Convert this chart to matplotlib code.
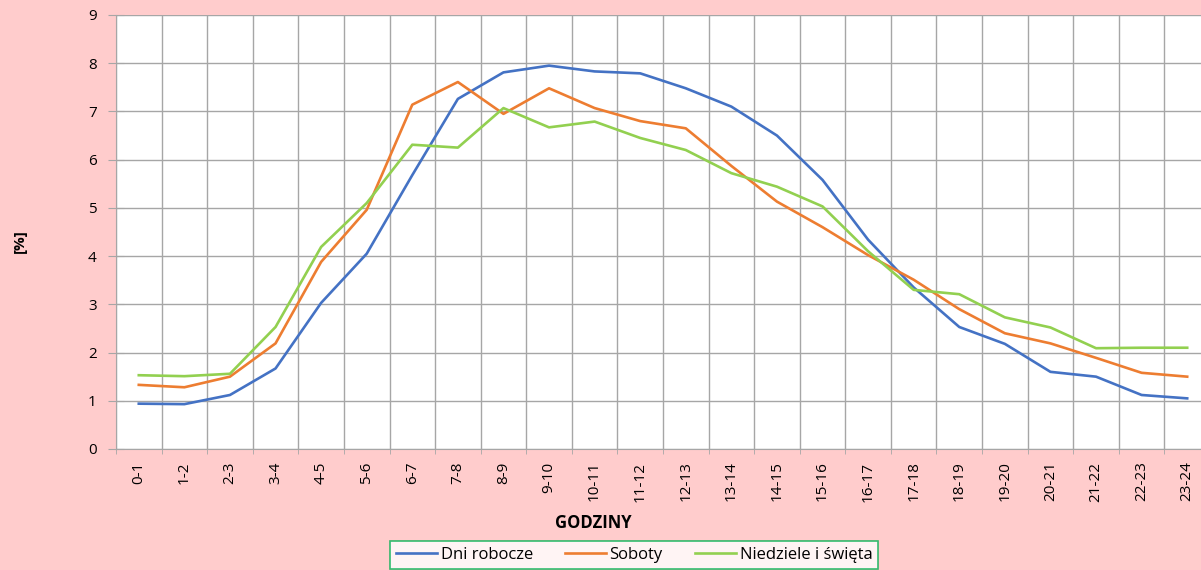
import matplotlib
matplotlib.use("Agg")
import matplotlib.pyplot as plt
import numpy as np

categories = ["0-1", "1-2", "2-3", "3-4", "4-5", "5-6", "6-7", "7-8", "8-9", "9-10",
              "10-11", "11-12", "12-13", "13-14", "14-15", "15-16", "16-17", "17-18",
              "18-19", "19-20", "20-21", "21-22", "22-23", "23-24"]
dni_robocze = [0.94, 0.93, 1.12, 1.67, 3.03, 4.05, 5.68, 7.26, 7.81, 7.95, 7.83, 7.79,
               7.48, 7.10, 6.50, 5.58, 4.34, 3.35, 2.53, 2.18, 1.60, 1.50, 1.12, 1.05]
soboty = [1.33, 1.28, 1.50, 2.19, 3.88, 4.96, 7.14, 7.61, 6.95, 7.48, 7.07, 6.80,
          6.65, 5.87, 5.13, 4.60, 4.02, 3.51, 2.90, 2.40, 2.19, 1.89, 1.58, 1.50]
niedziele = [1.53, 1.51, 1.56, 2.53, 4.19, 5.10, 6.31, 6.25, 7.07, 6.67, 6.79, 6.45,
             6.20, 5.72, 5.44, 5.03, 4.10, 3.30, 3.21, 2.73, 2.52, 2.09, 2.10, 2.10]
series_names = ["Dni robocze", "Soboty", "Niedziele i święta"]
colors = ["#4472C4", "#ED7D31", "#92D050"]
yticks = list(range(0, 10))

plt.rcParams['font.family'] = ['Open Sans', 'DejaVu Sans']

W, H = 1201, 570
fig = plt.figure(figsize=(W / 100, H / 100), dpi=100, facecolor="#FFCCCC")
ax = fig.add_axes([116 / W, 1 - 449 / H, (1210 - 116) / W, (449 - 15) / H])
ax.set_facecolor("white")

x = np.arange(len(categories))
for vals, name, c in zip([dni_robocze, soboty, niedziele], series_names, colors):
    ax.plot(x, vals, color=c, lw=1.9, label=name, solid_joinstyle="round")

ax.set_xlim(-0.5, len(categories) - 0.5)
ax.set_ylim(0, 9)
ax.set_yticks(yticks)
ax.set_yticklabels([str(v) for v in yticks], fontsize=11)
ax.set_xticks(x)
ax.set_xticklabels(categories, rotation=90, fontsize=11)
ax.set_xticks(np.arange(len(categories) + 1) - 0.5, minor=True)

gc = "#A6A6A6"
ax.grid(axis="y", which="major", color=gc, lw=1)
ax.grid(axis="x", which="minor", color=gc, lw=1)
ax.set_axisbelow(True)
ax.tick_params(axis="x", which="major", length=0, pad=9)
ax.tick_params(axis="x", which="minor", direction="inout", length=7, color=gc)
ax.tick_params(axis="y", which="major", direction="inout", length=12, color=gc, pad=8)
for s in ["top", "right"]:
    ax.spines[s].set_visible(False)
for s in ["left", "bottom"]:
    ax.spines[s].set_color(gc)

fig.text(593 / W, 1 - 523 / H, "GODZINY", fontsize=12, fontweight="bold",
         ha="center", va="center")
fig.text(20 / W, 1 - 241 / H, "[%]", rotation=90, fontsize=11, fontweight="bold",
         ha="center", va="center")

leg = fig.legend(loc="upper center", bbox_to_anchor=(634 / W, 1 - 533 / H), ncol=3,
                 fontsize=12, frameon=True, fancybox=False, handlelength=2.5,
                 handletextpad=0.2, columnspacing=1.9, borderpad=0.35)
leg.get_frame().set_edgecolor("#00B050")
leg.get_frame().set_linewidth(1.2)

fig.savefig("out.png", dpi=100, facecolor=fig.get_facecolor())
